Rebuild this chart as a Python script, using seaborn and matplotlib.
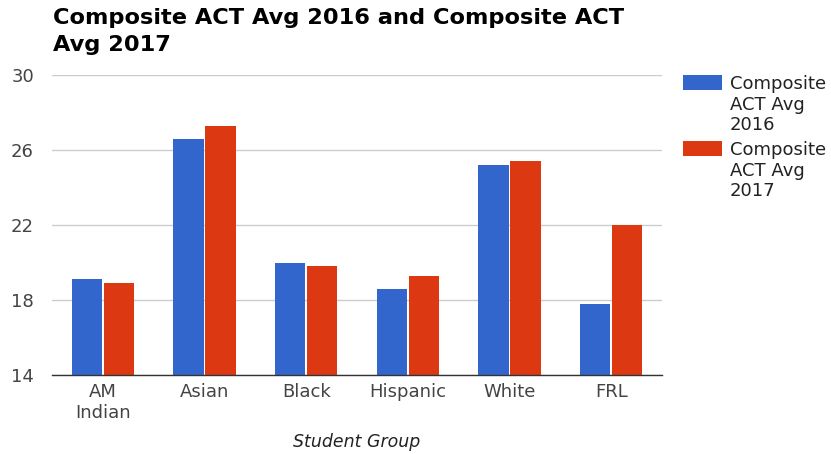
import seaborn as sns
import matplotlib.pyplot as plt
import pandas as pd
from matplotlib.patches import Rectangle

# Data
groups = ['AM\nIndian', 'Asian', 'Black', 'Hispanic', 'White', 'FRL']
avg_2016 = [19.1, 26.6, 20.0, 18.6, 25.2, 17.8]
avg_2017 = [18.9, 27.3, 19.8, 19.3, 25.4, 22.0]
series = ['Composite ACT Avg 2016', 'Composite ACT Avg 2017']
legend_labels = ['Composite\nACT Avg\n2016', 'Composite\nACT Avg\n2017']
colors = ['#3366cc', '#dc3912']

df = pd.DataFrame({
    'group': groups * 2,
    'value': avg_2016 + avg_2017,
    'series': [series[0]] * len(groups) + [series[1]] * len(groups),
})

sns.set_style('white')
plt.rcParams['font.family'] = ['DejaVu Sans']

W, H = 831, 454
fig = plt.figure(figsize=(W / 100, H / 100), dpi=100)
ax = fig.add_axes([52 / W, 1 - 375 / H, 610 / W, 300 / H])

sns.barplot(data=df, x='group', y='value', hue='series', palette=colors,
            width=0.63, gap=0.06, ax=ax, legend=False, saturation=1,
            edgecolor='none')

ax.set_ylim(14, 30)
ax.set_yticks([14, 18, 22, 26, 30])
ax.set_xlim(-0.5, len(groups) - 0.5)
ax.yaxis.grid(True, color='#cccccc', linewidth=1)
ax.set_axisbelow(True)
for s in ['top', 'right', 'left']:
    ax.spines[s].set_visible(False)
ax.spines['bottom'].set_color('#333333')
ax.spines['bottom'].set_linewidth(1)
ax.tick_params(axis='both', length=0, labelsize=13, labelcolor='#444444')
ax.tick_params(axis='y', pad=13)
ax.tick_params(axis='x', pad=6)
for t in ax.get_xticklabels():
    t.set_linespacing(1.2)
ax.set_ylabel('')
ax.set_xlabel('Student Group', fontsize=12.5, style='italic', color='#222222', labelpad=8)

# Title
fig.text(53 / W, 1 - 8 / H, 'Composite ACT Avg 2016 and Composite ACT\nAvg 2017',
         ha='left', va='top', fontsize=16.2, fontweight='bold', color='#000000',
         linespacing=1.45)

# Legend (text top-aligned with swatch, as in the reference)
for i, (c, lab) in enumerate(zip(colors, legend_labels)):
    top = 75 + i * 66
    fig.patches.append(Rectangle((683 / W, 1 - (top + 15) / H), 39 / W, 15 / H,
                                 facecolor=c, edgecolor='none',
                                 transform=fig.transFigure, figure=fig))
    fig.text(730 / W, 1 - top / H, lab, ha='left', va='top', fontsize=13,
             color='#222222', linespacing=1.18)

fig.savefig('out.png', dpi=100)
